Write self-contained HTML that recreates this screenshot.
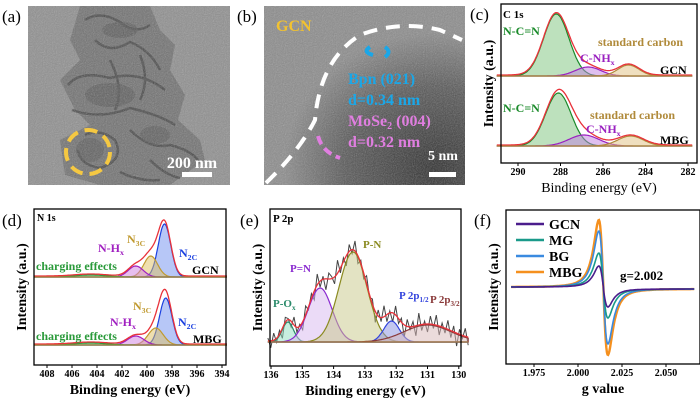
<!DOCTYPE html>
<html><head><meta charset="utf-8">
<style>
html,body{margin:0;padding:0;background:#fff;}
svg{display:block;font-family:"Liberation Serif",serif;font-weight:bold;}
</style></head>
<body>
<svg id="fig" width="700" height="401" viewBox="0 0 700 401" xmlns="http://www.w3.org/2000/svg">
<defs>
<filter id="grain" x="0" y="0" width="100%" height="100%">
<feTurbulence type="fractalNoise" baseFrequency="0.9" numOctaves="1" seed="3"/>
<feColorMatrix type="saturate" values="0"/>
<feComponentTransfer><feFuncA type="table" tableValues="0 0.45"/></feComponentTransfer>
<feComposite in2="SourceGraphic" operator="in"/>
</filter>
<radialGradient id="darkB" cx="0.85" cy="0.9" r="0.75"><stop offset="0" stop-color="#2a2a2a"/><stop offset="0.6" stop-color="#555"/><stop offset="1" stop-color="#8a8a8a"/></radialGradient>
</defs>

<!-- Panel a -->
<text x="2" y="22" font-size="17" font-weight="normal">(a)</text>
<g>
<rect x="28" y="6" width="202" height="179" fill="#8e8e8e"/>
<path d="M80 6 L150 6 L160 30 L175 45 L170 70 L185 95 L178 120 L200 140 L205 160 L170 185 L100 185 L65 175 L60 140 L90 125 L75 110 L60 80 L80 60 L70 40 Z" fill="#707070"/>
<g fill="none" stroke="#404040" stroke-width="2.5" opacity="0.8">
<path d="M85 20 Q100 10 120 22 Q135 35 150 25"/>
<path d="M95 40 Q110 55 130 42 Q150 50 160 70"/>
<path d="M68 85 Q80 70 110 78 Q140 70 165 90"/>
<path d="M72 110 Q100 120 130 108 Q160 115 175 125"/>
<path d="M85 135 Q100 128 115 140 Q125 160 100 168 Q80 165 78 150"/>
<path d="M130 130 Q150 150 170 145 Q190 150 198 160"/>
<path d="M110 60 Q125 90 115 110 M140 55 Q150 80 140 100"/>
<path d="M150 160 Q165 175 180 178 M120 172 Q140 182 160 180"/>
</g>
<g fill="#555" opacity="0.6">
<ellipse cx="110" cy="95" rx="25" ry="12"/>
<ellipse cx="90" cy="150" rx="14" ry="12"/>
<ellipse cx="155" cy="135" rx="15" ry="9"/>
<ellipse cx="120" cy="30" rx="18" ry="8"/>
</g>
<rect x="28" y="6" width="202" height="179" filter="url(#grain)" fill="#fff"/>
<circle cx="88" cy="152" r="22" fill="none" stroke="#f5c842" stroke-width="4" stroke-dasharray="13 7"/>
<text x="192" y="168" font-size="16" fill="#fff" text-anchor="middle">200 nm</text>
<rect x="182" y="172" width="30" height="5" fill="#fff"/>
</g>

<!-- Panel b -->
<text x="237" y="22" font-size="17" font-weight="normal">(b)</text>
<g>
<rect x="264" y="6" width="201" height="179" fill="#8a8a8a"/>
<rect x="264" y="6" width="201" height="179" fill="url(#darkB)"/>
<rect x="264" y="6" width="201" height="179" filter="url(#grain)" fill="#fff"/>
<path d="M266 183 Q300 150 315 120 Q320 60 360 35 Q400 20 440 30 L462 40" fill="none" stroke="#fff" stroke-width="4" stroke-dasharray="14 9"/>
<path d="M373 55 Q362 52 370 47 M385 47 Q392 52 385 57" fill="none" stroke="#1aa7e8" stroke-width="4"/>
<path d="M318 136 Q322 152 340 158" fill="none" stroke="#e07ee0" stroke-width="4" stroke-dasharray="9 5"/>
<text x="276" y="31" font-size="16" fill="#f2c230">GCN</text>
<text x="348" y="84" font-size="16" fill="#1aa7e8">Bpn (021)</text>
<text x="348" y="105" font-size="16" fill="#1aa7e8">d=0.34 nm</text>
<text x="348" y="126" font-size="16" fill="#e07ee0">MoSe<tspan font-size="10" dy="3">2</tspan><tspan dy="-3"> (004)</tspan></text>
<text x="348" y="147" font-size="16" fill="#e07ee0">d=0.32 nm</text>
<text x="443" y="160" font-size="14" fill="#fff" text-anchor="middle">5 nm</text>
<rect x="429" y="172" width="27" height="5" fill="#fff"/>
</g>

<text x="470" y="20" font-size="17" font-weight="normal">(c)</text>
<g id="pc"></g>
<text x="2" y="226" font-size="17" font-weight="normal">(d)</text>
<g id="pd"></g>
<text x="240" y="226" font-size="17" font-weight="normal">(e)</text>
<g id="pe"></g>
<text x="474" y="226" font-size="17" font-weight="normal">(f)</text>
<g id="pf"></g>
</svg>
<script>
// ---- data ----
const cTicks = [290,288,286,284,282];
const cGcnCenters = [288.2, 286.7, 284.8];
const cGcnAmps = [62, 9, 11];
const cGcnSigmas = [0.6, 0.6, 0.5];
const cMbgCenters = [288.1, 286.9, 284.7];
const cMbgAmps = [53, 11, 10];
const cMbgSigmas = [0.6, 0.7, 0.6];

const dTicks = [408,406,404,402,400,398,396,394];
const dGcnCenters = [398.6, 399.7, 400.9, 404.5];
const dGcnAmps = [53, 21, 11, 2];
const dGcnSigmas = [0.5, 0.55, 0.6, 1.3];
const dMbgCenters = [398.5, 399.3, 400.9, 404.5];
const dMbgAmps = [47, 17, 9, 2];
const dMbgSigmas = [0.5, 0.6, 0.65, 1.3];

const eTicks = [136,135,134,133,132,131,130];
const eCenters = [135.46, 134.43, 133.38, 132.15, 131.0];
const eAmps = [20, 54, 90, 21, 17];
const eSigmas = [0.18, 0.38, 0.45, 0.25, 0.75];
const eNoise = [4,-6,8,-3,5,-9,6,2,-5,9,-4,3,-7,10,-2,6,-8,12,-5,4,-10,7,3,-6,14,-4,5,-9,8,-3,11,-7,4,-5,9,-2,6,-10,7,-3,12,-6,3,-8,10,-4,5,-11,8,-2,6,-9,13,-5,4,-7,9,-3,11,-8,5,-4,10,-6,7,-12,6,-2,9,-7];

const fTicks = [1.975, 2.000, 2.025, 2.050];
const fSeries = ['GCN','MG','BG','MBG'];
const fMax = [21, 34, 56, 67];
const fMin = [18, 29, 55, 66];
const fCenter = 2.0144;

// ---- helpers ----
const NS='http://www.w3.org/2000/svg';
function mk(parent, tag, attrs){const e=document.createElementNS(NS,tag);for(const k in attrs)e.setAttribute(k,attrs[k]);parent.appendChild(e);return e;}
function gauss(E,c,a,s){return a*Math.exp(-0.5*((E-c)/s)**2);}
function frame(g,x0,y0,x1,y1,ticks,xf,xl,yl){
  const fr=mk(g,'rect',{x:x0,y:y0,width:x1-x0,height:y1-y0,fill:'none',stroke:'#000','stroke-width':1.3});
  
  
  ticks.forEach(t=>{const x=xf(t);
    const tk=mk(g,'line',{x1:x,x2:x,y1:y1,y2:y1+3,stroke:'#000'});
    
    
    const tx=mk(g,'text',{x:x,y:y1+12,'font-size':10,'text-anchor':'middle'});tx.textContent=xl(t);
    
    
  });
  const ax=mk(g,'text',{x:(x0+x1)/2,y:y1+29,'font-size':14,'text-anchor':'middle','font-weight':yl.bold?'bold':'normal'});ax.textContent=yl.xt;
  
  
  const yc=(y0+y1)/2,yx=x0-8;
  const ay=mk(g,'text',{x:yx,y:yc,'font-size':14,'text-anchor':'middle',transform:`rotate(-90 ${yx} ${yc})`});ay.textContent='Intensity (a.u.)';
  
  
}
function label(g,x,y,txt,col,size,sub,name){const t=mk(g,'text',{x:x,y:y,'font-size':size,fill:col});
  t.textContent=txt; if(sub){const s=mk(t,'tspan',{'font-size':size*0.65,dy:3});s.textContent=sub;}
  
  }
function xpsStack(g,xf,E0,E1,base,cs,as,ss,fills,strokes,name){
  const N=200, pts=[];for(let i=0;i<=N;i++)pts.push(E0+(E1-E0)*i/N);
  cs.forEach((c,k)=>{let d='M'+xf(E0)+' '+base;
    pts.forEach(E=>{d+=' L'+xf(E).toFixed(1)+' '+(base-gauss(E,c,as[k],ss[k])).toFixed(1);});
    d+=' L'+xf(E1)+' '+base+' Z';
    const p=mk(g,'path',{d:d,fill:fills[k],'fill-opacity':0.5,stroke:strokes[k],'stroke-width':1.2});
    
    });
  let d='';pts.forEach((E,i)=>{let s=0;cs.forEach((c,k)=>s+=gauss(E,c,as[k],ss[k]));d+=(i?' L':'M')+xf(E).toFixed(1)+' '+(base-s-1).toFixed(1);});
  const env=mk(g,'path',{d:d,fill:'none',stroke:'#e8323a','stroke-width':1.3});
  
  
  const bl=mk(g,'line',{x1:xf(E0),x2:xf(E1),y1:base,y2:base,stroke:'#b08a3a','stroke-width':1});
  
  
}

// ---- panel c ----
(function(){const g=document.getElementById('pc');
 const xf=E=>518+(290-E)*21.25;
 const F=['#7cc47c','#c080e0','#e0c080'],S=['#1a8a2a','#9a20c0','#b08a3a'];
 xpsStack(g,xf,291,281.8,76,cGcnCenters,cGcnAmps,cGcnSigmas,F,S,'c-gcn');
 xpsStack(g,xf,291,281.8,146,cMbgCenters,cMbgAmps,cMbgSigmas,F,S,'c-mbg');
 frame(g,501,4,697,163,cTicks,xf,t=>t,{xt:'Binding energy (eV)'});
 label(g,503,18,'C 1s','#000',11,null,'c-title');
 label(g,503,35,'N-C=N','#1a8a2a',12,null,'c-ncn-gcn');
 label(g,598,46,'standard carbon','#b08a3a',12,null,'c-std-gcn');
 label(g,580,62,'C-NH','#9a20c0',12,'x','c-cnh-gcn');
 label(g,660,74,'GCN','#000',12,null,'c-gcn-label');
 label(g,503,112,'N-C=N','#1a8a2a',12,null,'c-ncn-mbg');
 label(g,590,119,'standard carbon','#b08a3a',12,null,'c-std-mbg');
 label(g,586,133,'C-NH','#9a20c0',12,'x','c-cnh-mbg');
 label(g,660,144,'MBG','#000',12,null,'c-mbg-label');
})();

// ---- panel d ----
(function(){const g=document.getElementById('pd');
 const xf=E=>47+(408-E)*12.5;
 const F=['#7090f0','#e0c060','#d080e0','#80c080'],S=['#1a40e0','#c09a30','#a020c0','#2a9a3a'];
 xpsStack(g,xf,409,393.6,277,dGcnCenters,dGcnAmps,dGcnSigmas,F,S,'d-gcn');
 xpsStack(g,xf,409,393.6,345,dMbgCenters,dMbgAmps,dMbgSigmas,F,S,'d-mbg');
 frame(g,34,209,226,365,dTicks,xf,t=>t,{xt:'Binding energy (eV)',bold:true});
 label(g,37,221,'N 1s','#000',10,null,'d-title');
 label(g,127,243,'N','#c09a30',12,'3C','d-n3c-gcn');
 label(g,98,252,'N-H','#a020c0',12,'x','d-nhx-gcn');
 label(g,179,257,'N','#1a40e0',12,'2C','d-n2c-gcn');
 label(g,36,270,'charging effects','#2a9a3a',12,null,'d-charge-gcn');
 label(g,192,274,'GCN','#000',12,null,'d-gcn-label');
 label(g,133,310,'N','#c09a30',12,'3C','d-n3c-mbg');
 label(g,110,326,'N-H','#a020c0',12,'x','d-nhx-mbg');
 label(g,178,326,'N','#1a40e0',12,'2C','d-n2c-mbg');
 label(g,36,340,'charging effects','#2a9a3a',12,null,'d-charge-mbg');
 label(g,193,343,'MBG','#000',12,null,'d-mbg-label');
})();

// ---- panel e ----
(function(){const g=document.getElementById('pe');
 const xf=E=>271+(136-E)*31.3;
 const F=['#90e0c0','#d8b8f0','#c8c888','#8890e0','#d8b8b8'],S=['#2a8a6a','#8a2ad0','#8a8a20','#3344dd','#8a3a3a'];
 const E0=136.1,E1=129.7,base=342;
 let d='';eNoise.forEach((n,i)=>{const E=E0+(E1-E0)*i/(eNoise.length-1);let s=0;eCenters.forEach((c,k)=>s+=gauss(E,c,eAmps[k],eSigmas[k]));
   d+=(i?' L':'M')+xf(E).toFixed(1)+' '+(base-s-n).toFixed(1);});
 const raw=mk(g,'path',{d:d,fill:'none',stroke:'#444','stroke-width':1});
 
 
 xpsStack(g,xf,E0,E1,base,eCenters,eAmps,eSigmas,F,S,'e');
 frame(g,270,209,461,366,eTicks,xf,t=>t,{xt:'Binding energy (eV)',bold:true});
 label(g,273,222,'P 2p','#000',11,null,'e-title');
 label(g,363,248,'P-N','#8a8a20',11,null,'e-pn');
 label(g,290,272,'P=N','#8a2ad0',11,null,'e-peqn');
 label(g,273,307,'P-O','#2a8a6a',11,'x','e-pox');
 label(g,399,299,'P 2p','#3344dd',11,'1/2','e-p12');
 label(g,430,303,'P 2p','#8a3a3a',11,'3/2','e-p32');
})();

// ---- panel f ----
(function(){const g=document.getElementById('pf');
 const xf=v=>578+(v-2.0)*1760;
 const base=287, w=0.0045, C=['#4b1d8c','#1a9a8a','#3a8ae0','#f5901e'];
 const dl=x=>-x/((x*x+w*w)**2), norm=Math.abs(dl(w/Math.sqrt(3)));
 [3,2,1,0].forEach(k=>{let d='';
   for(let i=0;i<=300;i++){const v=1.962+(2.066-1.962)*i/300;const s=dl(v-fCenter)/norm;
     const y=base-(s>0?s*fMax[k]:s*fMin[k])+(v>fCenter?2:0);
     d+=(i?' L':'M')+xf(v).toFixed(1)+' '+y.toFixed(1);}
   const p=mk(g,'path',{d:d,fill:'none',stroke:C[k],'stroke-width':k===3?2.4:1.6});
   
   });
 frame(g,506,210,700,364,fTicks,xf,t=>t.toFixed(3),{xt:'g value',bold:true});
 fSeries.forEach((s,k)=>{const y=224+k*16;
   const l=mk(g,'line',{x1:516,x2:544,y1:y,y2:y,stroke:C[k],'stroke-width':2.5});
   
   
   label(g,549,y+5,s,'#000',14,null,'legend-'+s.toLowerCase());});
 label(g,620,280,'g=2.002','#000',13,null,'g-value-label');
})();
</script>
</body></html>
